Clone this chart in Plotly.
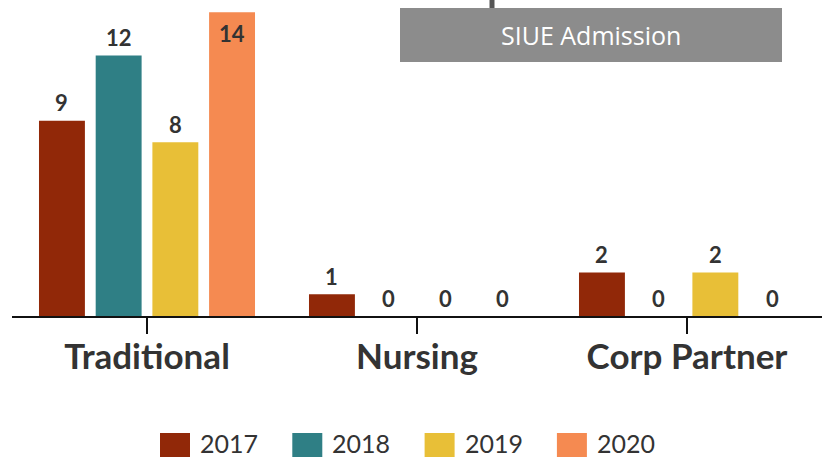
import plotly.graph_objects as go

categories = ["Traditional", "Nursing", "Corp Partner"]
years = ["2017", "2018", "2019", "2020"]
values = {
    "2017": [9, 1, 2],
    "2018": [12, 0, 0],
    "2019": [8, 0, 2],
    "2020": [14, 0, 0],
}
colors = ["#912808", "#2f7f85", "#e8bf37", "#f58a51"]
title_text = "SIUE Admission"

W, H = 830, 457
ml, mr, mt, mb = 12, 8, 0, 141
ymax = 14.56
plot_h = H - mt - mb
plot_w = W - ml - mr
bargap, bargroupgap = 0.16, 0.19

fig = go.Figure()
for yr, c in zip(years, colors):
    fig.add_trace(go.Bar(
        x=categories, y=values[yr], name=yr, marker_color=c,
        marker_line_width=0, showlegend=False,
    ))

fig.update_layout(barmode="group", bargap=bargap, bargroupgap=bargroupgap)

# value labels (clamped to stay inside the plot top)
n = len(years)
group_w = 1 - bargap
bar_pitch = group_w / n
label_cap = ymax - 33 * ymax / plot_h
annotations = []
for i, yr in enumerate(years):
    for j, cat in enumerate(categories):
        v = values[yr][j]
        xoff = -group_w / 2 + bar_pitch * (i + 0.5)
        yy = v + 18 * ymax / plot_h
        yy = min(yy, label_cap)
        annotations.append(dict(
            x=j + xoff, y=yy, xref="x", yref="y", text=str(v), showarrow=False,
            font=dict(family="Lato", size=22, color="#333333", weight="bold"),
            xanchor="center", yanchor="middle",
        ))

# manual legend
def px_x(p):
    return (p - ml) / plot_w
def px_y(p):
    return (H - mb - p) / plot_h

shapes = []
leg_x0 = 160
leg_pitch = 132.3
for i, (yr, c) in enumerate(zip(years, colors)):
    x0 = leg_x0 + i * leg_pitch
    shapes.append(dict(type="rect", xref="paper", yref="paper",
                       x0=px_x(x0), x1=px_x(x0 + 30), y0=px_y(457), y1=px_y(433),
                       fillcolor=c, line_width=0, layer="above"))
    annotations.append(dict(
        x=px_x(x0 + 38), y=px_y(443), xref="paper", yref="paper", text=yr,
        showarrow=False, xanchor="left", yanchor="middle",
        font=dict(family="Lato", size=25, color="#333333"),
    ))

# title box
shapes.append(dict(type="line", xref="paper", yref="paper",
                   x0=px_x(492), x1=px_x(492), y0=px_y(0), y1=px_y(10),
                   line=dict(color="#555555", width=5), layer="above"))
shapes.append(dict(type="rect", xref="paper", yref="paper",
                   x0=px_x(400), x1=px_x(782), y0=px_y(62), y1=px_y(8),
                   fillcolor="#8c8c8c", line_width=0, layer="above"))
annotations.append(dict(
    x=px_x(591), y=px_y(35), xref="paper", yref="paper", text=title_text,
    showarrow=False, xanchor="center", yanchor="middle",
    font=dict(family="Open Sans", size=25, color="#ffffff"),
))

fig.update_layout(
    width=W, height=H,
    margin=dict(l=ml, r=mr, t=mt, b=mb, pad=0),
    paper_bgcolor="white", plot_bgcolor="white",
    shapes=shapes, annotations=annotations,
    showlegend=False,
    xaxis=dict(
        showline=True, linecolor="#111111", linewidth=2,
        ticks="outside", ticklen=16, tickwidth=2, tickcolor="#111111",
        tickfont=dict(family="Lato", size=35, color="#333333", weight="bold"),
        ticklabelstandoff=-7,
        showgrid=False, zeroline=False,
    ),
    yaxis=dict(range=[0, ymax], visible=False, showgrid=False, zeroline=False),
)

fig.write_html("out.html", config={"displayModeBar": False},
               post_script="document.body.style.margin='0';")
